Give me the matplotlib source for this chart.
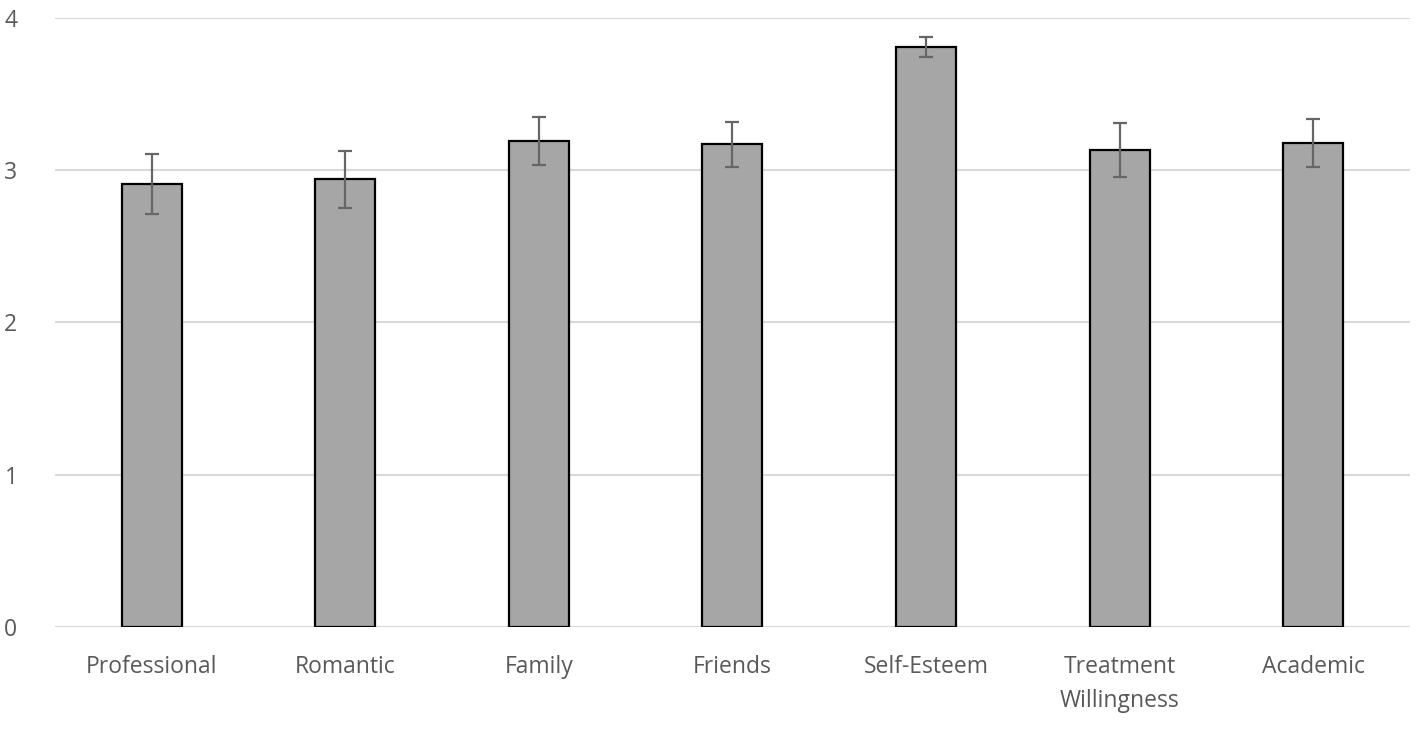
import matplotlib
matplotlib.use("Agg")
import matplotlib.pyplot as plt
import numpy as np

categories = ["Professional", "Romantic", "Family", "Friends", "Self-Esteem",
              "Treatment\nWillingness", "Academic"]
means = [2.91, 2.94, 3.19, 3.17, 3.81, 3.13, 3.18]
errors = [0.195, 0.185, 0.157, 0.147, 0.067, 0.177, 0.159]
yticks = [0, 1, 2, 3, 4]

plt.rcParams['font.family'] = ['Open Sans', 'DejaVu Sans']

fig = plt.figure(figsize=(14.17, 7.31), dpi=100)
ax = fig.add_axes([0.0388, 0.1423, 0.9562, 0.8331])

x = np.arange(len(categories))
ax.bar(x, means, width=0.31, color="#a6a6a6", edgecolor="black", linewidth=1.6, zorder=3)
ax.errorbar(x, means, yerr=errors, fmt="none", ecolor="#666666", elinewidth=1.6,
            capsize=5, capthick=1.6, zorder=4)

ax.set_xlim(-0.5, len(categories) - 0.5)
ax.set_ylim(0, 4)
ax.set_yticks(yticks)
ax.set_yticklabels([str(t) for t in yticks])
ax.set_xticks(x)
ax.set_xticklabels(categories, linespacing=1.55)
ax.yaxis.grid(True, color="#d9d9d9", linewidth=1.5, zorder=0)
ax.set_axisbelow(True)
for s in ax.spines.values():
    s.set_visible(False)
ax.tick_params(axis="both", length=0, colors="#595959", labelsize=16.5)
ax.tick_params(axis="x", pad=20)
ax.tick_params(axis="y", pad=27)

fig.savefig("out.png", dpi=100)
